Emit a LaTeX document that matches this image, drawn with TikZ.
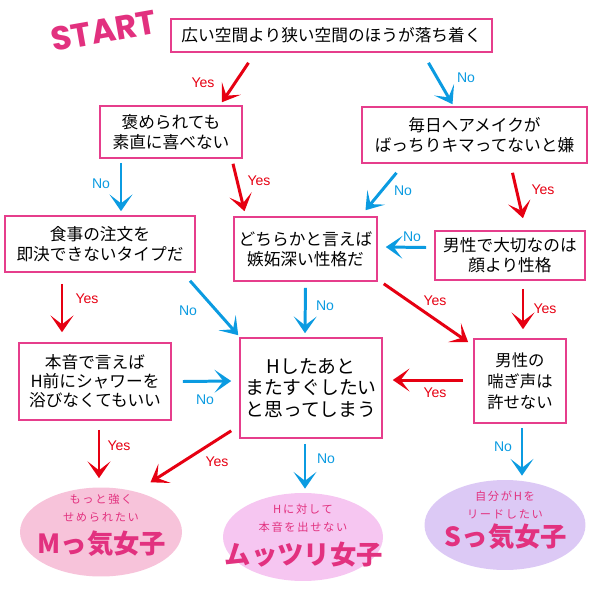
\documentclass[tikz,border=0pt]{standalone}
\usepackage{fontspec}
\newfontfamily\jpfont{Noto Sans CJK JP}
\newfontfamily\notefont[LetterSpace=15]{Noto Sans CJK JP}
\newfontfamily\labfont{Liberation Sans}
\newfontfamily\startfont{Poppins}
\usetikzlibrary{arrows.meta, shapes.geometric, calc}

\definecolor{boxpink}{HTML}{E63E8C}
\definecolor{yesred}{HTML}{E60012}
\definecolor{noblue}{HTML}{0B9BE1}
\definecolor{mpink}{HTML}{F7C3DA}
\definecolor{mviolet}{HTML}{F6C6F1}
\definecolor{slav}{HTML}{DCC9F5}
\definecolor{typeink}{HTML}{E2317F}

\begin{document}
\begin{tikzpicture}[
    x=0.02cm, y=-0.02cm,
    box/.style={draw=boxpink, line width=0.9pt, fill=white, rectangle, align=center, inner sep=0pt, font=\jpfont\fontsize{9.5}{11.4}\selectfont},
    result/.style={ellipse, draw=none, inner sep=0pt},
    note/.style={align=center, inner sep=0pt, text=typeink, font=\notefont\fontsize{6.4}{10.2}\selectfont},
    typename/.style={inner sep=0pt, text=typeink, font=\jpfont\bfseries\fontsize{15}{15}\selectfont},
    yes/.style={-{Stealth[length=9.5pt, width=13pt, inset=5pt]}, line width=1.7pt, draw=yesred},
    no/.style={-{Stealth[length=9.5pt, width=13pt, inset=5pt]}, line width=1.7pt, draw=noblue},
    yeslabel/.style={font=\labfont\fontsize{8}{9}\selectfont, text=yesred, inner sep=0pt},
    nolabel/.style={font=\labfont\fontsize{8}{9}\selectfont, text=noblue, inner sep=0pt}
]
\useasboundingbox (0,0) rectangle (600,600);

\node[rotate=10, inner sep=0pt, text=typeink, font=\startfont\bfseries\fontsize{19}{19}\selectfont] (start) at (104,31) {START};

% questions
\node[box, minimum width=6.42cm, minimum height=0.66cm] (space) at (331.5,35.5) {広い空間より狭い空間のほうが落ち着く};
\node[box, minimum width=2.84cm, minimum height=1.04cm] (praise) at (171,132) {褒められても\\素直に喜べない};
\node[box, minimum width=4.5cm, minimum height=1.12cm] (hair) at (474.5,135) {毎日ヘアメイクが\\ばっちりキマってないと嫌};
\node[box, minimum width=3.8cm, minimum height=1.12cm] (meal) at (100,244) {食事の注文を\\即決できないタイプだ};
\node[box, minimum width=2.86cm, minimum height=1.28cm] (jealous) at (305.5,249) {どちらかと言えば\\嫉妬深い性格だ};
\node[box, minimum width=3.0cm, minimum height=0.98cm] (looks) at (510,255.5) {男性で大切なのは\\顔より性格};
\node[box, minimum width=3.04cm, minimum height=1.54cm, font=\jpfont\fontsize{9.5}{10.8}\selectfont] (honest) at (95,381.5) {本音で言えば\\H前にシャワーを\\浴びなくてもいい};
\node[box, minimum width=2.84cm, minimum height=2.0cm, font=\jpfont\fontsize{10.7}{12}\selectfont] (again) at (311,388) {Hしたあと\\またすぐしたい\\と思ってしまう};
\node[box, minimum width=1.84cm, minimum height=1.68cm, font=\jpfont\fontsize{9.3}{12}\selectfont] (voice) at (520,381) {男性の\\喘ぎ声は\\許せない};

% results
\node[result, fill=mpink, minimum width=3.24cm, minimum height=1.78cm] (mtype) at (101,532) {};
\node[result, fill=mviolet, minimum width=3.2cm, minimum height=1.76cm] (mutsuri) at (303,537) {};
\node[result, fill=slav, minimum width=3.22cm, minimum height=1.8cm] (stype) at (505,525) {};
\node[note] (mtypenote) at (101,508) {もっと強く\\せめられたい};
\node[typename] (mtypename) at (102,544) {Mっ気女子};
\node[note] (mutsurinote) at (303,518) {Hに対して\\本音を出せない};
\node[typename] (mutsuriname) at (304,555) {ムッツリ女子};
\node[note] (stypenote) at (505,505) {自分がHを\\リードしたい};
\node[typename] (stypename) at (506,537) {Sっ気女子};

% arrows
\draw[yes] ($(space.south)+(-83,10)$) -- ($(praise.north)+(51,-3)$);
\draw[no] ($(space.south)+(97,10)$) -- ($(hair.north)+(-22,-2)$);
\draw[no] ($(praise.south)+(-50,4)$) -- ($(meal.north)+(21,-4)$);
\draw[yes] ($(praise.south)+(62,5)$) -- ($(jealous.north)+(-61,-5)$);
\draw[no] ($(hair.south)+(-78,9)$) -- ($(jealous.north)+(60,-6)$);
\draw[yes] ($(hair.south)+(38,9)$) -- ($(looks.north)+(13,-12)$);
\draw[no] ($(looks.west)+(-8,-8)$) -- ($(jealous.east)+(8,-2)$);
\draw[yes] ($(meal.south)+(-38,11)$) -- ($(honest.north)+(-33,-10)$);
\draw[no] ($(meal.south)+(90,8)$) -- ($(again.north west)+(-1,-2)$);
\draw[no] ($(jealous.south)+(0,6)$) -- ($(again.north)+(-6,-4)$);
\draw[yes] ($(jealous.south east)+(6,2)$) -- ($(voice.north west)+(-5,4)$);
\draw[yes] ($(looks.south)+(13,8)$) -- ($(voice.north)+(3,-9)$);
\draw[no] ($(honest.east)+(11,0)$) -- ($(again.west)+(-8,-7)$);
\draw[yes] ($(voice.west)+(-10,-1)$) -- ($(again.east)+(10,-8)$);
\draw[yes] ($(honest.south)+(4,9)$) -- ($(mtype.north)+(-2,-9)$);
\draw[yes] ($(again.south west)+(-8,-8)$) -- ($(mtype.north east)+(-8,-18)$);
\draw[no] ($(again.south)+(-6,5)$) -- ($(mutsuri.north)+(2,-4)$);
\draw[no] ($(voice.south)+(2,4)$) -- ($(stype.north)+(17,-4)$);

\foreach \x/\y/\txt/\sty [count=\n] in {203/83/Yes/yeslabel, 466/78/No/nolabel, 101/184/No/nolabel, 259/181/Yes/yeslabel,
    403/191/No/nolabel, 543/190/Yes/yeslabel, 412/237/No/nolabel, 87/299/Yes/yeslabel, 188/311/No/nolabel,
    325/306/No/nolabel, 435/301/Yes/yeslabel, 545/309/Yes/yeslabel, 205/400/No/nolabel, 435/393/Yes/yeslabel,
    119/446/Yes/yeslabel, 217/462/Yes/yeslabel, 326/459/No/nolabel, 503/447/No/nolabel}
    \node[\sty] (lbl\n) at (\x,\y) {\txt};

\end{tikzpicture}
\end{document}
